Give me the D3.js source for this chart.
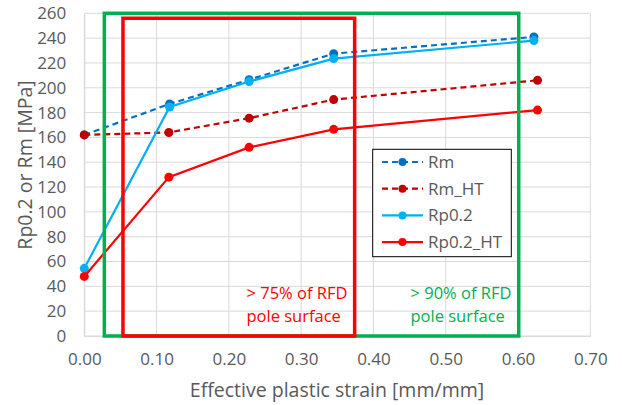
<!DOCTYPE html>
<html><head><meta charset="utf-8">
<script src="https://cdn.jsdelivr.net/npm/d3@7"></script>
<style>body{margin:0;background:#fff;}svg{display:block;font-family:"Open Sans",sans-serif;}</style>
</head><body><svg id="c" width="622" height="405"></svg>
<script>
const strainRm = [0, 0.118, 0.228, 0.345, 0.622];
const strainHT = [0, 0.117, 0.228, 0.345, 0.627];
const Rm = [162, 187, 206.5, 227.5, 241];
const RmHT = [162, 164, 175.5, 190.5, 206];
const Rp02 = [54.5, 184.5, 205, 223.5, 238];
const Rp02HT = [48, 128, 152, 166.5, 182];
const seriesNames = ["Rm", "Rm_HT", "Rp0.2", "Rp0.2_HT"];
const xTicks = [0, 0.1, 0.2, 0.3, 0.4, 0.5, 0.6, 0.7];
const yTicks = [0,20,40,60,80,100,120,140,160,180,200,220,240,260];
const redBox = [0.0535, 0.374, 0, 256];
const greenBox = [0.0277, 0.601, 0, 260];

const series = [
  {name: seriesNames[0], x: strainRm, y: Rm, color: "#0070c0", dash: "6,4"},
  {name: seriesNames[1], x: strainHT, y: RmHT, color: "#c00000", dash: "6,4"},
  {name: seriesNames[2], x: strainRm, y: Rp02, color: "#00b0f0", dash: null},
  {name: seriesNames[3], x: strainHT, y: Rp02HT, color: "#ff0000", dash: null}
];

const svg = d3.select("#c");
const x = d3.scaleLinear().domain([0, 0.7]).range([84.3, 590.3]);
const y = d3.scaleLinear().domain([0, 260]).range([336, 13.3]);

// grid
svg.append("g").selectAll("line").data(yTicks).join("line")
  .attr("x1", x(0)).attr("x2", x(0.7)).attr("y1", d=>y(d)).attr("y2", d=>y(d))
  .attr("stroke", "#d9d9d9").attr("stroke-width", 1);
svg.append("g").selectAll("line").data(xTicks).join("line")
  .attr("y1", y(0)).attr("y2", y(260)).attr("x1", d=>x(d)).attr("x2", d=>x(d))
  .attr("stroke", "#d9d9d9").attr("stroke-width", 1);

// axes
const xa = svg.append("g").attr("transform", `translate(0,${y(0)})`)
  .call(d3.axisBottom(x).tickValues(xTicks).tickFormat(d3.format(".2f")).tickSize(0).tickPadding(17));
const ya = svg.append("g").attr("transform", `translate(${x(0)},0)`)
  .call(d3.axisLeft(y).tickValues(yTicks).tickSize(0).tickPadding(18));
[xa, ya].forEach(a => {
  a.select(".domain").attr("stroke", "#d9d9d9");
  a.selectAll("text").attr("fill", "#595959").style("font-size", "17px").style("font-family", "'Open Sans',sans-serif");
});

svg.append("text").attr("x", 337).attr("y", 397).attr("text-anchor", "middle")
  .attr("fill", "#595959").style("font-size", "19.5px").text("Effective plastic strain [mm/mm]");
svg.append("text").attr("transform", "translate(32,165) rotate(-90)").attr("text-anchor", "middle")
  .attr("fill", "#595959").style("font-size", "19.5px").text("Rp0.2 or Rm [MPa]");

// series
const line = d3.line().x(d=>x(d[0])).y(d=>y(d[1]));
series.forEach(s => {
  const pts = s.x.map((v,i)=>[v, s.y[i]]);
  svg.append("path").datum(pts).attr("d", line).attr("fill", "none")
    .attr("stroke", s.color).attr("stroke-width", 2.2).attr("stroke-dasharray", s.dash);
  svg.append("g").selectAll("circle").data(pts).join("circle")
    .attr("cx", d=>x(d[0])).attr("cy", d=>y(d[1])).attr("r", 4.5).attr("fill", s.color);
});

// boxes
function box(b, color) {
  svg.append("rect").attr("x", x(b[0])).attr("y", y(b[3]))
    .attr("width", x(b[1]) - x(b[0])).attr("height", y(b[2]) - y(b[3]))
    .attr("fill", "none").attr("stroke", color).attr("stroke-width", 3.5);
}
box(greenBox, "#00b050");
box(redBox, "#ff0000");

// annotations
function note(xp, lines, color) {
  const t = svg.append("text").attr("fill", color).style("font-size", "16.5px");
  lines.forEach((l,i)=> t.append("tspan").attr("x", xp).attr("y", 299 + i*22.5).text(l));
}
note(246.5, ["> 75% of RFD", "pole surface"], "#ff0000");
note(410.5, ["> 90% of RFD", "pole surface"], "#00b050");

// legend
const lg = svg.append("g");
lg.append("rect").attr("x", 372.7).attr("y", 149.3).attr("width", 138.6).attr("height", 107.4)
  .attr("fill", "#fff").attr("stroke", "#000").attr("stroke-width", 1);
series.forEach((s,i) => {
  const yy = 162 + i*26.7;
  lg.append("line").attr("x1", 382).attr("x2", 423).attr("y1", yy).attr("y2", yy)
    .attr("stroke", s.color).attr("stroke-width", 2.2).attr("stroke-dasharray", s.dash);
  lg.append("circle").attr("cx", 402.5).attr("cy", yy).attr("r", 4).attr("fill", s.color);
  lg.append("text").attr("x", 428).attr("y", yy + 6).attr("fill", "#595959")
    .style("font-size", "17px").text(s.name);
});
</script></body></html>
